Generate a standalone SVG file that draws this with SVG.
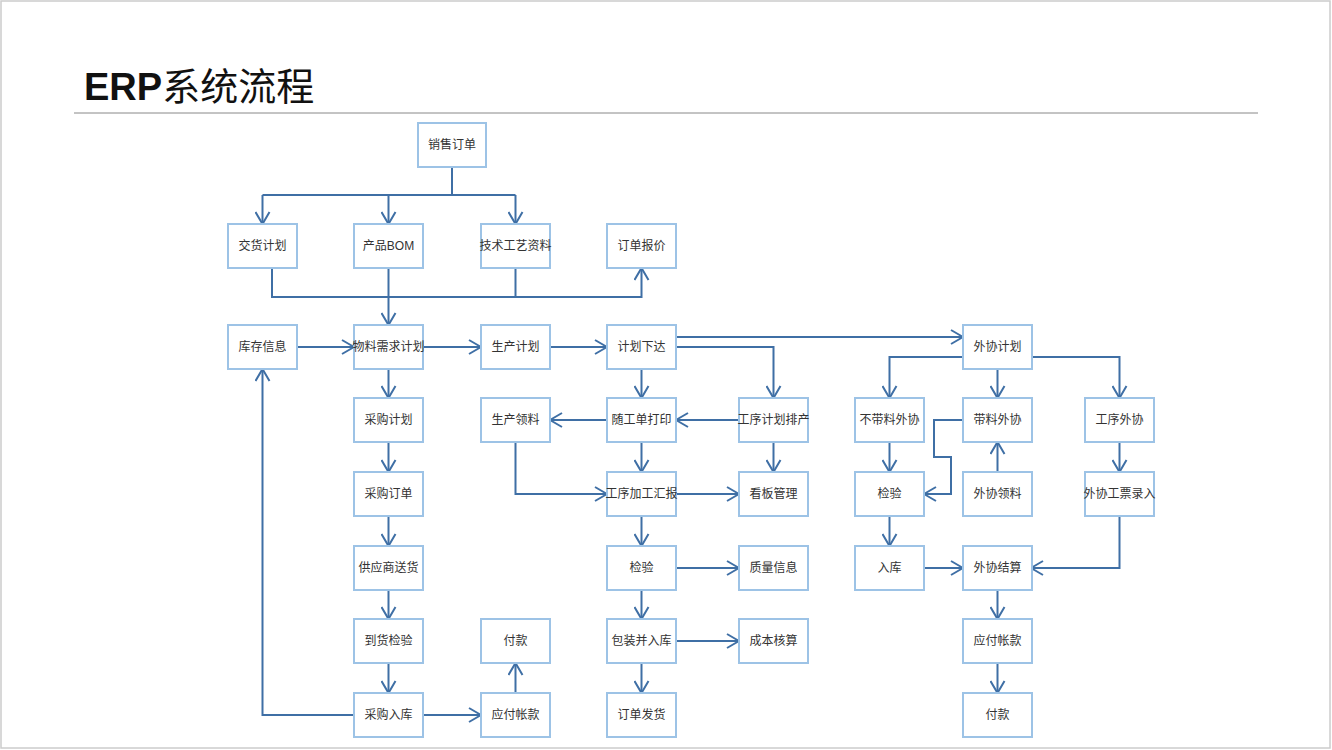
<svg xmlns="http://www.w3.org/2000/svg" width="1332" height="750" viewBox="0 0 1332 750">
<style>
.box{fill:#ffffff;stroke:#9dc3e6;stroke-width:2}
.lbl{font-family:"Liberation Sans","Noto Sans CJK SC",sans-serif;font-size:12px;fill:#333333;text-anchor:middle;dominant-baseline:central}
.cn{fill:none;stroke:#3f6fa5;stroke-width:2}
.ar{marker-end:url(#arr)}
</style>
<defs>
<marker id="arr" markerUnits="userSpaceOnUse" viewBox="0 0 14 16" refX="13" refY="8" markerWidth="14" markerHeight="16" orient="auto">
<path d="M1,1 L13,8 L1,15" fill="none" stroke="#3f6fa5" stroke-width="2"/>
</marker>
</defs>
<rect x="0" y="0" width="1332" height="750" fill="#ffffff"/>
<rect x="1" y="1" width="1329" height="747" fill="none" stroke="#cccccc" stroke-width="1.5"/>
<text x="84" y="100" font-family="'Liberation Sans','Noto Sans CJK SC',sans-serif" font-size="38" fill="#111111"><tspan font-weight="bold">ERP</tspan><tspan font-family="'Noto Sans CJK SC',sans-serif">系统流程</tspan></text>
<line x1="74" y1="113" x2="1258" y2="113" stroke="#888888" stroke-width="1"/>

<g id="connectors">
<path class="cn" d="M452,167 V195 M262.5,195 H515.5"/>
<path class="cn ar" d="M262.5,195 V224"/>
<path class="cn ar" d="M388.5,195 V224"/>
<path class="cn ar" d="M515.5,195 V224"/>
<path class="cn ar" d="M272,268 V297 H641.5 V268"/>
<path class="cn" d="M515.5,268 V297"/>
<path class="cn ar" d="M388.5,268 V325"/>
<path class="cn ar" d="M297,347 H354"/>
<path class="cn ar" d="M423,347 H481"/>
<path class="cn ar" d="M550,347 H607"/>
<path class="cn ar" d="M676,337 H963"/>
<path class="cn ar" d="M676,347 H773.5 V398"/>
<path class="cn ar" d="M641.5,369 V398"/>
<path class="cn ar" d="M739,420 H676"/>
<path class="cn ar" d="M607,420 H550"/>
<path class="cn ar" d="M515.5,442 V494 H607"/>
<path class="cn ar" d="M641.5,442 V472"/>
<path class="cn ar" d="M676,494 H739"/>
<path class="cn ar" d="M773.5,442 V472"/>
<path class="cn ar" d="M641.5,516 V546"/>
<path class="cn ar" d="M676,568 H739"/>
<path class="cn ar" d="M641.5,590 V619"/>
<path class="cn ar" d="M676,641 H739"/>
<path class="cn ar" d="M641.5,663 V693"/>
<path class="cn ar" d="M388.5,369 V398"/>
<path class="cn ar" d="M388.5,442 V472"/>
<path class="cn ar" d="M388.5,516 V546"/>
<path class="cn ar" d="M388.5,590 V619"/>
<path class="cn ar" d="M388.5,663 V693"/>
<path class="cn ar" d="M354,715 H262.5 V369"/>
<path class="cn ar" d="M423,715 H481"/>
<path class="cn ar" d="M515.5,693 V663"/>
<path class="cn ar" d="M963,357 H889.5 V398"/>
<path class="cn ar" d="M1031,357 H1119.5 V398"/>
<path class="cn ar" d="M997.5,369 V398"/>
<path class="cn ar" d="M889.5,442 V472"/>
<path class="cn ar" d="M963,420 H934 V457 H951 V494 H924"/>
<path class="cn ar" d="M997.5,472 V442"/>
<path class="cn ar" d="M1119.5,442 V472"/>
<path class="cn ar" d="M1119.5,516 V568 H1031"/>
<path class="cn ar" d="M889.5,516 V546"/>
<path class="cn ar" d="M924,568 H963"/>
<path class="cn ar" d="M997.5,590 V619"/>
<path class="cn ar" d="M997.5,663 V693"/>
</g>

<g id="n-xsdd"><rect class="box" x="418" y="123" width="68" height="44"/><text class="lbl" x="452" y="145">销售订单</text></g>
<g id="n-jhjh"><rect class="box" x="228" y="224" width="69" height="44"/><text class="lbl" x="262.5" y="246">交货计划</text></g>
<g id="n-cpbom"><rect class="box" x="354" y="224" width="69" height="44"/><text class="lbl" x="388.5" y="246">产品BOM</text></g>
<g id="n-jsgy"><rect class="box" x="481" y="224" width="69" height="44"/><text class="lbl" x="515.5" y="246">技术工艺资料</text></g>
<g id="n-ddbj"><rect class="box" x="607" y="224" width="69" height="44"/><text class="lbl" x="641.5" y="246">订单报价</text></g>

<g id="n-kcxx"><rect class="box" x="228" y="325" width="69" height="44"/><text class="lbl" x="262.5" y="347">库存信息</text></g>
<g id="n-wlxq"><rect class="box" x="354" y="325" width="69" height="44"/><text class="lbl" x="388.5" y="347">物料需求计划</text></g>
<g id="n-scjh"><rect class="box" x="481" y="325" width="69" height="44"/><text class="lbl" x="515.5" y="347">生产计划</text></g>
<g id="n-jhxd"><rect class="box" x="607" y="325" width="69" height="44"/><text class="lbl" x="641.5" y="347">计划下达</text></g>
<g id="n-wxjh"><rect class="box" x="963" y="325" width="69" height="44"/><text class="lbl" x="997.5" y="347">外协计划</text></g>

<g id="n-cgjh"><rect class="box" x="354" y="398" width="69" height="44"/><text class="lbl" x="388.5" y="420">采购计划</text></g>
<g id="n-scll"><rect class="box" x="481" y="398" width="69" height="44"/><text class="lbl" x="515.5" y="420">生产领料</text></g>
<g id="n-sgdy"><rect class="box" x="607" y="398" width="69" height="44"/><text class="lbl" x="641.5" y="420">随工单打印</text></g>
<g id="n-gxjhpc"><rect class="box" x="739" y="398" width="69" height="44"/><text class="lbl" x="773.5" y="420">工序计划排产</text></g>
<g id="n-bdlwx"><rect class="box" x="855" y="398" width="69" height="44"/><text class="lbl" x="889.5" y="420">不带料外协</text></g>
<g id="n-dlwx"><rect class="box" x="963" y="398" width="69" height="44"/><text class="lbl" x="997.5" y="420">带料外协</text></g>
<g id="n-gxwx"><rect class="box" x="1085" y="398" width="69" height="44"/><text class="lbl" x="1119.5" y="420">工序外协</text></g>

<g id="n-cgdd"><rect class="box" x="354" y="472" width="69" height="44"/><text class="lbl" x="388.5" y="494">采购订单</text></g>
<g id="n-gxjghb"><rect class="box" x="607" y="472" width="69" height="44"/><text class="lbl" x="641.5" y="494">工序加工汇报</text></g>
<g id="n-kbgl"><rect class="box" x="739" y="472" width="69" height="44"/><text class="lbl" x="773.5" y="494">看板管理</text></g>
<g id="n-jy2"><rect class="box" x="855" y="472" width="69" height="44"/><text class="lbl" x="889.5" y="494">检验</text></g>
<g id="n-wxll"><rect class="box" x="963" y="472" width="69" height="44"/><text class="lbl" x="997.5" y="494">外协领料</text></g>
<g id="n-wxgp"><rect class="box" x="1085" y="472" width="69" height="44"/><text class="lbl" x="1119.5" y="494">外协工票录入</text></g>

<g id="n-gysh"><rect class="box" x="354" y="546" width="69" height="44"/><text class="lbl" x="388.5" y="568">供应商送货</text></g>
<g id="n-jy1"><rect class="box" x="607" y="546" width="69" height="44"/><text class="lbl" x="641.5" y="568">检验</text></g>
<g id="n-zlxx"><rect class="box" x="739" y="546" width="69" height="44"/><text class="lbl" x="773.5" y="568">质量信息</text></g>
<g id="n-rk"><rect class="box" x="855" y="546" width="69" height="44"/><text class="lbl" x="889.5" y="568">入库</text></g>
<g id="n-wxjs"><rect class="box" x="963" y="546" width="69" height="44"/><text class="lbl" x="997.5" y="568">外协结算</text></g>

<g id="n-dhjy"><rect class="box" x="354" y="619" width="69" height="44"/><text class="lbl" x="388.5" y="641">到货检验</text></g>
<g id="n-fk1"><rect class="box" x="481" y="619" width="69" height="44"/><text class="lbl" x="515.5" y="641">付款</text></g>
<g id="n-bzrk"><rect class="box" x="607" y="619" width="69" height="44"/><text class="lbl" x="641.5" y="641">包装并入库</text></g>
<g id="n-cbhs"><rect class="box" x="739" y="619" width="69" height="44"/><text class="lbl" x="773.5" y="641">成本核算</text></g>
<g id="n-yfzk2"><rect class="box" x="963" y="619" width="69" height="44"/><text class="lbl" x="997.5" y="641">应付帐款</text></g>

<g id="n-cgrk"><rect class="box" x="354" y="693" width="69" height="44"/><text class="lbl" x="388.5" y="715">采购入库</text></g>
<g id="n-yfzk1"><rect class="box" x="481" y="693" width="69" height="44"/><text class="lbl" x="515.5" y="715">应付帐款</text></g>
<g id="n-ddfh"><rect class="box" x="607" y="693" width="69" height="44"/><text class="lbl" x="641.5" y="715">订单发货</text></g>
<g id="n-fk2"><rect class="box" x="963" y="693" width="69" height="44"/><text class="lbl" x="997.5" y="715">付款</text></g>
</svg>
